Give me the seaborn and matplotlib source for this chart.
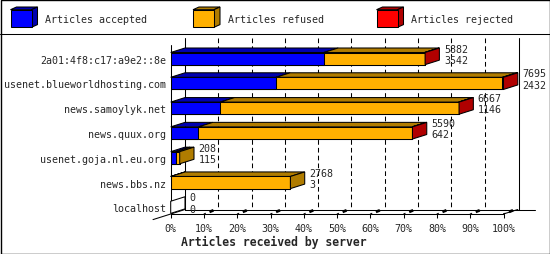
import numpy as np
import pandas as pd
import matplotlib
matplotlib.use("Agg")
import matplotlib.pyplot as plt
import seaborn as sns
from matplotlib.patches import Polygon, Rectangle

# ---- data ----
servers = ["2a01:4f8:c17:a9e2::8e", "usenet.blueworldhosting.com", "news.samoylyk.net",
           "news.quux.org", "usenet.goja.nl.eu.org", "news.bbs.nz", "localhost"]
accepted = [3542, 2432, 1146, 642, 115, 3, 0]
refused = [2328, 5238, 5511, 4940, 93, 2765, 0]
rejected = [12, 25, 10, 8, 0, 0, 0]
received = [5882, 7695, 6667, 5590, 208, 2768, 0]
pct_ticks = [0, 10, 20, 30, 40, 50, 60, 70, 80, 90, 100]
tick_labels = [f"{p}%" for p in pct_ticks]
series_names = ["Articles accepted", "Articles refused", "Articles rejected"]
colors = ["#0000ff", "#ffb000", "#ff0000"]
dark = ["#0000b0", "#b07c00", "#b00000"]
xlabel = "Articles received by server"

sns.set_theme(style="white")
plt.rcParams['font.family'] = ['DejaVu Sans Mono', 'DejaVu Sans']
FS = 7.2

W, H = 550, 255
fig = plt.figure(figsize=(W / 100, H / 100), dpi=100)
fig.patch.set_facecolor("white")
ov = fig.add_axes([0, 0, 1, 1], zorder=0)
ov.set_xlim(0, W); ov.set_ylim(H, 0); ov.axis('off')

X0, X1 = 170.7, 503.5
YT, YB = 39.0, 215.0
ax = fig.add_axes([X0 / W, (H - YB) / H, (X1 - X0) / W, (YB - YT) / H], zorder=1)
ax.patch.set_alpha(0)

df = pd.DataFrame({"server": servers, "acc": accepted, "ref": refused, "rej": rejected})
df["c3"] = df.acc + df.ref + df.rej
df["c2"] = df.acc + df.ref
df["c1"] = df.acc
BW = 0.49
LW = 0.75
for col, c in zip(["c3", "c2", "c1"], colors[::-1]):
    sns.barplot(data=df, x=col, y="server", color=c, width=BW, edgecolor="black",
                linewidth=LW, saturation=1, errorbar=None, orient="h", ax=ax, zorder=3)

totals = list(df.c3)
XMAX = max(totals)
YLO, YHI = -0.83, 6.27
ax.set_xlim(0, XMAX)
ax.set_ylim(YHI, YLO)
ROW_PX = (YB - YT) / (YHI - YLO)
PXX = XMAX / (X1 - X0)


def px(x):
    return (x - X0) * PXX


def py(y):
    return YLO + (y - YT) / ROW_PX


DXP, DYP = 14.3, 4.5
dx = DXP * PXX
dy = DYP / ROW_PX

# walls / axes lines (drawn behind the bars)
kw = dict(color="black", lw=LW, clip_on=False, zorder=1)
ax.plot([px(185), px(185)], [py(39), py(210.5)], **kw)
ax.plot([px(519), px(519)], [py(39), py(210.5)], **kw)
ax.plot([px(185), px(535)], [py(210.5), py(210.5)], **kw)
ax.plot([0, XMAX], [py(215), py(215)], **kw)
ax.plot([XMAX, XMAX + dx], [py(215), py(210.5)], **kw)
ax.plot([0, 0], [py(45.7), py(215)], **kw)
ax.plot([px(153), px(185)], [py(220.6), py(210.5)], **kw)
for p in pct_ticks[1:-1]:
    t = p / 100 * XMAX
    ax.plot([t + dx, t + dx], [py(39), py(210.5)], color="black", lw=LW,
            dashes=(4.5, 3), clip_on=False, zorder=1)
for p in pct_ticks[1:]:
    t = p / 100 * XMAX
    ax.plot([t + 5.5 * PXX, t + 9.5 * PXX], [py(212.9), py(211.3)], color="black",
            lw=2.0, clip_on=False, zorder=1, solid_capstyle="butt")
    ax.plot([t, t + 1.5 * PXX], [py(215), py(214.3)], color="black",
            lw=LW, clip_on=False, zorder=1)

# 3D faces
for i in range(len(servers)):
    segs = [(0, accepted[i]), (accepted[i], accepted[i] + refused[i]),
            (accepted[i] + refused[i], totals[i])]
    yt, yb = i - BW / 2, i + BW / 2
    last = None
    for k, (s, e) in enumerate(segs):
        if e > s:
            ax.add_patch(Polygon([(s, yt), (e, yt), (e + dx, yt - dy), (s + dx, yt - dy)],
                                 closed=True, fc=dark[k], ec="black", lw=LW, zorder=4,
                                 clip_on=False))
            last = k
    E = totals[i]
    ax.add_patch(Polygon([(E, yt), (E, yb), (E + dx, yb - dy), (E + dx, yt - dy)],
                         closed=True, fc=dark[last] if last is not None else "white",
                         ec="black", lw=LW, zorder=4, clip_on=False))
    xt = E + dx + 4.5 * PXX
    ax.text(xt, i - 10 / ROW_PX, str(received[i]), ha="left", va="center", fontsize=FS,
            zorder=5)
    ax.text(xt, i + 1.2 / ROW_PX, str(accepted[i]), ha="left", va="center", fontsize=FS,
            zorder=5)

for s in ax.spines.values():
    s.set_visible(False)
ax.set_xticks([p / 100 * XMAX for p in pct_ticks])
ax.set_xticklabels(tick_labels)
ax.tick_params(axis="x", length=3.2, width=LW, color="black", pad=3, labelsize=FS,
               direction="out", bottom=True)
ax.tick_params(axis="y", length=0, pad=3.4, labelsize=FS)
ax.set_xlabel("")
ax.set_ylabel("")
ax.grid(False)

fig.text(274 / W, 1 - 242 / H, xlabel, ha="center", va="center", fontsize=8.3,
         fontweight="bold")

# legend (3D cubes)
cube_x = [10.5, 193, 376.5]
text_x = [44.6, 228, 411]
for cx, tx, c, d, name in zip(cube_x, text_x, colors, dark, series_names):
    x0, x1, y0, y1 = cx, cx + 21, 10.7, 28.3
    ddx, ddy = 6, 2.7
    ov.add_patch(Polygon([(x0, y0), (x1, y0), (x1 + ddx, y0 - ddy), (x0 + ddx, y0 - ddy)],
                         closed=True, fc=d, ec="black", lw=LW))
    ov.add_patch(Polygon([(x1, y0), (x1, y1), (x1 + ddx, y1 - ddy), (x1 + ddx, y0 - ddy)],
                         closed=True, fc=d, ec="black", lw=LW))
    ov.add_patch(Rectangle((x0, y0), x1 - x0, y1 - y0, fc=c, ec="black", lw=LW))
    ov.text(tx, 20, name, ha="left", va="center", fontsize=FS)

ov.plot([0, W], [34.5, 34.5], color="black", lw=LW)
ov.add_patch(Rectangle((0.5, 0.5), W - 1, H - 1, fill=False, ec="black", lw=1.0))

fig.savefig("out.png", dpi=100)
